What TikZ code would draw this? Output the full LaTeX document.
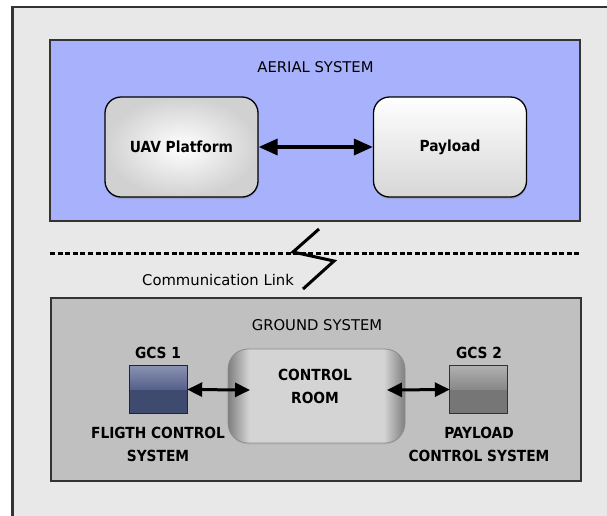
\documentclass[tikz,border=0pt]{standalone}
\usepackage{fontspec}
\setmainfont{DejaVu Sans}
\newfontfamily\condbold{DejaVu Sans Condensed}[BoldFont={DejaVu Sans Condensed Bold}]
\usetikzlibrary{arrows.meta,shadows,calc}
\definecolor{framebg}{HTML}{E8E8E8}
\definecolor{frameline}{HTML}{333333}
\definecolor{aerialbg}{HTML}{A8B2FC}
\definecolor{groundbg}{HTML}{C0C0C0}
\definecolor{gcsonetop}{HTML}{8A92B2}
\definecolor{gcsonemid}{HTML}{56608A}
\definecolor{gcsonebot}{HTML}{3E4A6E}
\definecolor{gcsoneline}{HTML}{1C2444}
\definecolor{gcstwotop}{HTML}{B0B0B0}
\definecolor{gcstwomid}{HTML}{888888}
\definecolor{gcstwobot}{HTML}{767676}
\pgfdeclarehorizontalshading{crshade}{100bp}{color(0bp)=(black!50); color(25bp)=(black!50); color(31bp)=(black!17); color(69bp)=(black!17); color(75bp)=(black!50); color(100bp)=(black!50)}
\tikzset{
  sysbox/.style={draw=frameline, line width=1.3pt, minimum width=530pt, inner sep=0pt},
  blockbox/.style={draw=black, line width=1.3pt, rounded corners=16pt, minimum width=153pt, minimum height=100pt, inner sep=0pt,
     drop shadow={opacity=0.3, shadow xshift=0.5pt, shadow yshift=-2pt}},
  regtext/.style={font=\fontsize{14.8}{18}\selectfont, inner sep=0pt},
  boldtext/.style={font=\condbold\bfseries\fontsize{15.3}{18}\selectfont, inner sep=0pt, align=center},
  biarrow/.style={line width=3.5pt, {Triangle[length=19pt,width=16pt]}-{Triangle[length=19pt,width=16pt]}},
  smallarrow/.style={line width=3pt, {Triangle[length=15pt,width=14pt]}-{Triangle[length=15pt,width=14pt]}},
  halfbox/.style={minimum width=57pt, minimum height=24pt, inner sep=0pt, anchor=north west},
  gcsbox/.style={minimum width=57pt, minimum height=48pt, inner sep=0pt},
}
\begin{document}
\begin{tikzpicture}[x=1pt,y=-1pt]
\useasboundingbox (0,0) rectangle (607,515);
% outer frame
\begin{scope}
\clip (0,0) rectangle (607,515);
\fill[framebg] (12,7) rectangle (640,540);
\draw[frameline, line width=2.5pt] (12.5,540) -- (12.5,7) -- (640,7);
\end{scope}

% aerial system
\node[sysbox, fill=aerialbg, minimum height=181pt] (aerial) at (315,130.5) {};
\node[regtext] (aeriallbl) at (315.5,67) {AERIAL SYSTEM};
\node[blockbox, inner color=white, outer color=black!18] (uav) at (181.5,147) {};
\node[boldtext] at (uav) {UAV Platform};
\node[blockbox, top color=white, bottom color=black!16] (payload) at (450,147) {};
\node[boldtext] at (payload) {Payload};
\draw[biarrow] (uav.east) -- (payload.west);

% communication link
\coordinate (dl) at (50,253);
\coordinate (dr) at (579,253);
\draw[line width=3pt, dash pattern=on 5pt off 2.6pt] (dl) -- (dr);
\coordinate (z1) at (319,229);
\coordinate (z2) at (293,252);
\coordinate (z3) at (334,261);
\coordinate (z4) at (303,289);
\draw[line width=3pt, line join=miter] (z1) -- (z2) -- (z3) -- (z4);
\node[regtext] (commlbl) at (218,280) {Communication Link};

% ground system
\node[sysbox, fill=groundbg, minimum height=183pt] (ground) at (316,389.5) {};
\node[regtext] (groundlbl) at (317,325) {GROUND SYSTEM};

% control room
\node[minimum width=177pt, minimum height=94pt, inner sep=0pt, rounded corners=20pt, draw=black!45, line width=0.8pt, shading=crshade,
      drop shadow={opacity=0.15, shadow xshift=0pt, shadow yshift=-1.5pt}] (cr) at (316.5,396) {};
\node[boldtext] (crlbl) at (315,386.5) {CONTROL\\[5pt]ROOM};

% GCS 1
\node[gcsbox] (g1) at (158.5,389.5) {};
\node[halfbox, top color=gcsonetop, bottom color=gcsonemid] (g1top) at (g1.north west) {};
\node[halfbox, fill=gcsonebot] (g1bot) at (g1.west) {};
\draw[gcsoneline, line width=1.2pt] (g1.north west) rectangle (g1.south east);
\node[boldtext] (g1lbl) at (158,353) {GCS 1};
\node[boldtext] (g1desc) at (158,444.5) {FLIGTH CONTROL\\[5pt]SYSTEM};

% GCS 2
\node[gcsbox] (g2) at (478.5,389.5) {};
\node[halfbox, top color=gcstwotop, bottom color=gcstwomid] (g2top) at (g2.north west) {};
\node[halfbox, fill=gcstwobot] (g2bot) at (g2.west) {};
\draw[frameline, line width=1.2pt] (g2.north west) rectangle (g2.south east);
\node[boldtext] (g2lbl) at (479,353) {GCS 2};
\node[boldtext] (g2desc) at (479,444.5) {PAYLOAD\\[5pt]CONTROL SYSTEM};

% ground arrows
\coordinate (crin) at (250,390);
\coordinate (crout) at (387,390);
\draw[smallarrow] (g1.east) -- (crin);
\draw[smallarrow] (crout) -- (g2.west);
\end{tikzpicture}
\end{document}
